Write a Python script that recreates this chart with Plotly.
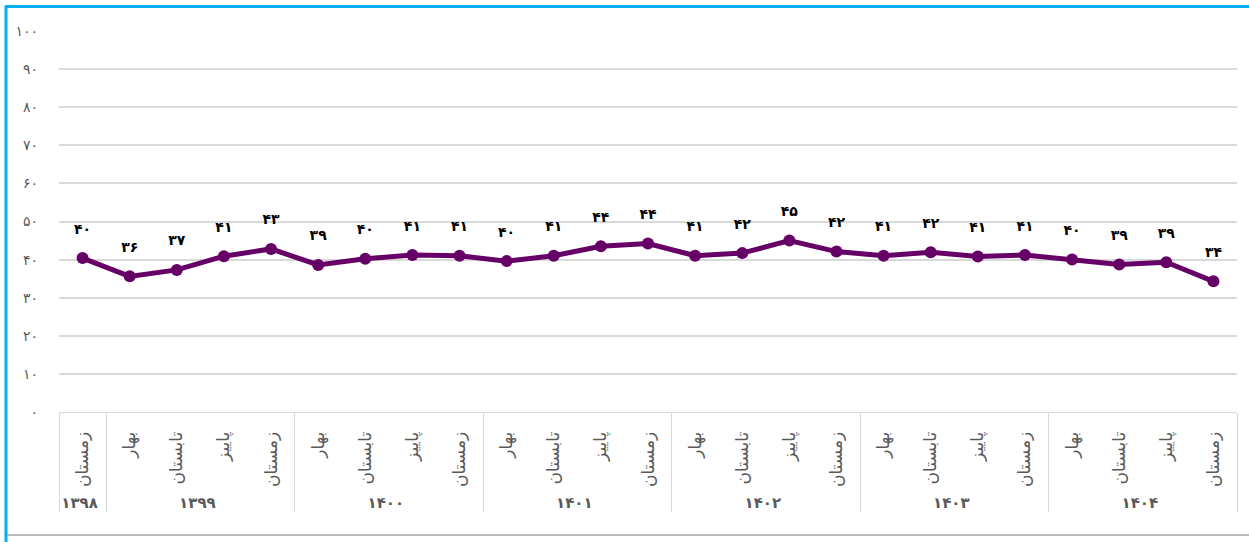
import plotly.graph_objects as go

years = ["۱۳۹۸"] + ["۱۳۹۹"] * 4 + ["۱۴۰۰"] * 4 + ["۱۴۰۱"] * 4 + ["۱۴۰۲"] * 4 + ["۱۴۰۳"] * 4 + ["۱۴۰۴"] * 4
seasons = ["زمستان\u200b"] + ["بهار", "تابستان", "پاییز", "زمستان"] * 6
values = [40.4, 35.6, 37.3, 40.9, 42.8, 38.6, 40.2, 41.2, 41.0, 39.6, 41.0, 43.5, 44.2,
          41.0, 41.7, 45.0, 42.1, 41.0, 41.9, 40.8, 41.2, 40.0, 38.7, 39.3, 34.3]
labels = ["۴۰", "۳۶", "۳۷", "۴۱", "۴۳", "۳۹", "۴۰", "۴۱", "۴۱", "۴۰", "۴۱", "۴۴", "۴۴",
          "۴۱", "۴۲", "۴۵", "۴۲", "۴۱", "۴۲", "۴۱", "۴۱", "۴۰", "۳۹", "۳۹", "۳۴"]
ytick_vals = [0, 10, 20, 30, 40, 50, 60, 70, 80, 90, 100]
ytick_text = ["۰", "۱۰", "۲۰", "۳۰", "۴۰", "۵۰", "۶۰", "۷۰", "۸۰", "۹۰", "۱۰۰"]

FONT = "DejaVu Sans"
PURPLE = "#660066"

year_ticks = ["<b><span style='font-size:15px'>" + y + "</span></b>" for y in years]

fig = go.Figure()
fig.add_trace(go.Scatter(
    x=[year_ticks, seasons], y=values, mode="lines+markers",
    line=dict(color=PURPLE, width=5),
    marker=dict(color=PURPLE, size=12),
    hoverinfo="skip", showlegend=False,
))
fig.add_trace(go.Scatter(
    x=[year_ticks, seasons], y=values, mode="markers+text",
    text=labels, textposition="top center",
    textfont=dict(family=FONT, size=14, color="#000000", weight="bold"),
    marker=dict(color="rgba(0,0,0,0)", size=32),
    hoverinfo="skip", showlegend=False,
))

W, H = 1249, 542
L, R, T, B = 59, 12, 31, 130
pw, ph = W - L - R, H - T - B

def px_x(p):
    return (p - L) / pw

def px_y(p):
    return (H - B - p) / ph

fig.update_layout(
    width=W, height=H,
    margin=dict(l=L, r=R, t=T, b=B, autoexpand=False),
    paper_bgcolor="white", plot_bgcolor="white",
    font=dict(family=FONT, color="#595959"),
    xaxis=dict(
        type="multicategory",
        automargin=False,
        range=[-0.5, len(values) - 0.5],
        tickangle=-90,
        tickfont=dict(family=FONT, size=17, color="#595959"),
        showgrid=False,
        showline=True, linecolor="#d9d9d9", linewidth=1,
        showdividers=True, dividercolor="#d9d9d9", dividerwidth=1,
        ticks="",
        ticklabelstandoff=12,
    ),
    yaxis=dict(
        automargin=False,
        range=[0, 100],
        tickvals=ytick_vals, ticktext=ytick_text,
        tickfont=dict(family=FONT, size=14, color="#595959"),
        showgrid=True, gridcolor="#d9d9d9", gridwidth=1.5,
        zeroline=False, showline=False,
        ticklabelstandoff=20,
    ),
    shapes=[
        dict(type="line", xref="paper", yref="paper", x0=px_x(6), x1=px_x(6),
             y0=px_y(6), y1=px_y(542), line=dict(color="#00B0F0", width=3)),
        dict(type="line", xref="paper", yref="paper", x0=px_x(5), x1=px_x(1249),
             y0=px_y(6.5), y1=px_y(6.5), line=dict(color="#00B0F0", width=3)),
        dict(type="line", xref="paper", yref="paper", x0=px_x(7), x1=px_x(1249),
             y0=px_y(535), y1=px_y(535), line=dict(color="#a6a6a6", width=1.5)),
    ],
)

fig.write_html("out.html", config={"displayModeBar": False},
               post_script="document.body.style.margin='0';document.body.style.overflow='hidden';")
